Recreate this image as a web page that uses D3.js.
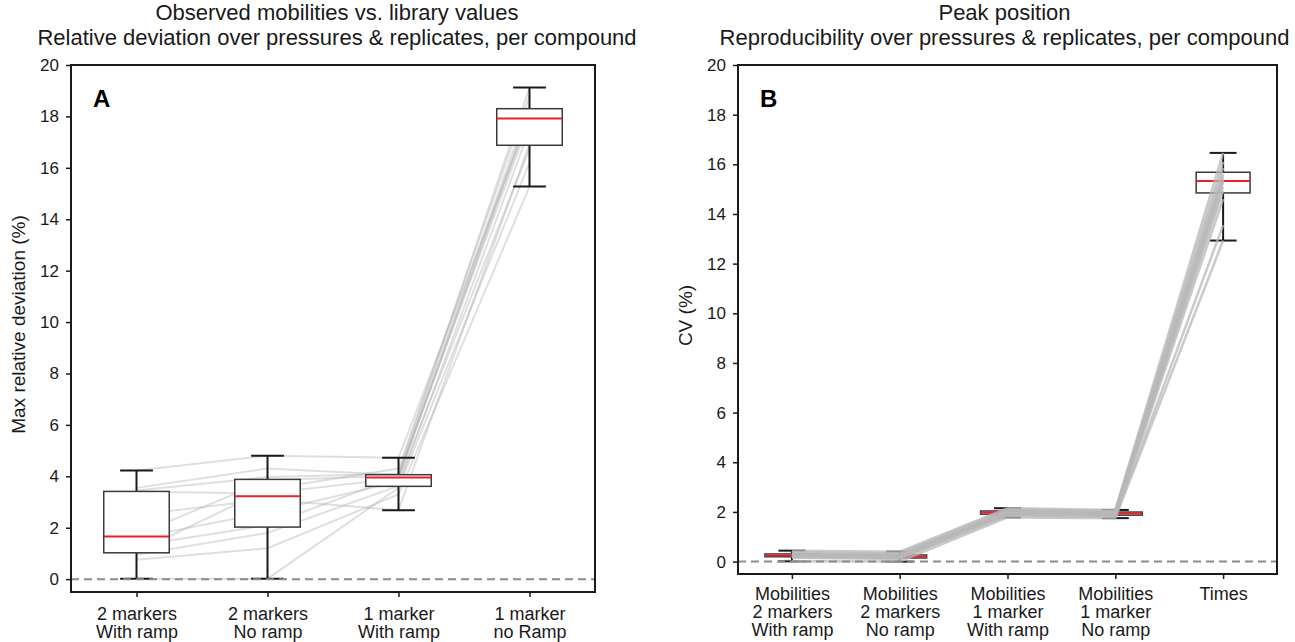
<!DOCTYPE html>
<html>
<head>
<meta charset="utf-8">
<script src="https://cdn.jsdelivr.net/npm/d3@7"></script>
<style>
  body { margin: 0; background: #fff; }
  svg { font-family: "Liberation Sans", Arial, sans-serif; }
</style>
</head>
<body>
<svg id="chart" width="1295" height="642"></svg>
<script>
// panel A: max relative deviation (%) per compound, one array per method
const catsA = [["2 markers", "With ramp"], ["2 markers", "No ramp"], ["1 marker", "With ramp"], ["1 marker", "no Ramp"]];
const twoMarkRamp   = [4.23, 3.55, 3.45, 3.40, 2.50, 1.72, 1.60, 1.30, 1.05, 0.95, 0.75, 0.02];
const twoMarkNoRamp = [4.80, 4.30, 3.97, 3.34, 3.10, 3.85, 2.60, 2.10, 3.50, 1.80, 1.20, 0.02];
const oneMarkRamp   = [4.72, 4.05, 4.10, 3.92, 2.68, 4.02, 3.80, 3.98, 4.30, 3.63, 3.30, 3.55];
const oneMarkNoRamp = [17.99, 18.45, 19.12, 18.25, 16.92, 17.85, 16.75, 18.10, 18.80, 17.50, 15.27, 16.20];

// panel B: CV (%) per compound
const catsB = [["Mobilities", "2 markers", "With ramp"], ["Mobilities", "2 markers", "No ramp"],
  ["Mobilities", "1 marker", "With ramp"], ["Mobilities", "1 marker", "No ramp"], ["Times"]];
const cvMob2Ramp   = [0.44, 0.38, 0.33, 0.30, 0.28, 0.26, 0.24, 0.22, 0.20, 0.18, 0.15, 0.01];
const cvMob2NoRamp = [0.40, 0.33, 0.29, 0.26, 0.23, 0.21, 0.19, 0.17, 0.15, 0.13, 0.10, 0.00];
const cvMob1Ramp   = [2.15, 2.10, 2.06, 2.03, 2.01, 1.99, 1.97, 1.95, 1.92, 1.88, 1.85, 1.78];
const cvMob1NoRamp = [2.08, 2.04, 2.01, 1.99, 1.97, 1.95, 1.92, 1.90, 1.88, 1.84, 1.80, 1.75];
const cvTimes      = [16.46, 16.10, 15.86, 15.62, 15.50, 15.38, 15.28, 15.10, 14.93, 14.60, 13.55, 12.93];

const yTicks = d3.range(0, 21, 2);

const svg = d3.select("#chart");

function panel(opt) {
  const g = svg.append("g");
  const n = opt.cats.length;
  const x = d3.scaleLinear().domain([0.5, n + 0.5]).range([opt.left, opt.right]);
  const y = d3.scaleLinear().domain([-0.5, 20]).range([opt.bottom, opt.top]);
  const unit = x(2) - x(1);

  // compound lines
  const nComp = opt.series[0].length;
  const compounds = d3.range(nComp).map((i) => opt.series.map((s, j) => [j + 1, s[i]]));
  const line = d3.line().x((d) => x(d[0])).y((d) => y(d[1]));
  function drawLines() {
    g.append("g").selectAll("path").data(compounds).enter().append("path")
      .attr("d", line).attr("fill", "none")
      .attr("stroke", opt.lineColor).attr("stroke-opacity", opt.lineOpacity)
      .attr("stroke-width", opt.lineWidth);
  }
  if (!opt.linesOnTop) drawLines();

  // boxes
  const stats = opt.series.map((s, j) => {
    const v = s.slice().sort(d3.ascending);
    return { pos: j + 1, min: v[0], max: v[v.length - 1],
      q1: d3.quantile(v, 0.25), med: d3.quantile(v, 0.5), q3: d3.quantile(v, 0.75) };
  });
  const bx = g.append("g").selectAll("g").data(stats).enter().append("g");
  bx.append("line").attr("x1", (d) => x(d.pos)).attr("x2", (d) => x(d.pos))
    .attr("y1", (d) => y(d.q3)).attr("y2", (d) => y(d.max)).attr("stroke", "#1a1a1a").attr("stroke-width", 2);
  bx.append("line").attr("x1", (d) => x(d.pos)).attr("x2", (d) => x(d.pos))
    .attr("y1", (d) => y(d.q1)).attr("y2", (d) => y(d.min)).attr("stroke", "#1a1a1a").attr("stroke-width", 2);
  ["max", "min"].forEach((k) => {
    bx.append("line").attr("x1", (d) => x(d.pos - 0.125)).attr("x2", (d) => x(d.pos + 0.125))
      .attr("y1", (d) => y(d[k])).attr("y2", (d) => y(d[k])).attr("stroke", "#1a1a1a").attr("stroke-width", 2);
  });
  bx.append("rect").attr("x", (d) => x(d.pos - 0.25)).attr("width", unit * 0.5)
    .attr("y", (d) => y(d.q3)).attr("height", (d) => y(d.q1) - y(d.q3))
    .attr("fill", "#fff").attr("stroke", "#3a3a3a").attr("stroke-width", 1.5);
  bx.append("line").attr("x1", (d) => x(d.pos - 0.25)).attr("x2", (d) => x(d.pos + 0.25))
    .attr("y1", (d) => y(d.med)).attr("y2", (d) => y(d.med)).attr("stroke", "#e8212a").attr("stroke-width", 2);

  if (opt.linesOnTop) drawLines();

  // zero reference
  g.append("line").attr("x1", opt.left).attr("x2", opt.right).attr("y1", y(0)).attr("y2", y(0))
    .attr("stroke", "#8c8c8c").attr("stroke-width", 2).attr("stroke-dasharray", "8,5");

  // axes
  const ya = g.append("g").attr("transform", `translate(${opt.left},0)`)
    .call(d3.axisLeft(y).tickValues(yTicks).tickSize(5).tickPadding(7));
  const xa = g.append("g").attr("transform", `translate(0,${opt.bottom})`)
    .call(d3.axisBottom(x).tickValues(d3.range(1, n + 1)).tickSize(5).tickFormat(""));
  [ya, xa].forEach((a) => {
    a.select(".domain").remove();
    a.selectAll(".tick line").attr("stroke", "#1a1a1a").attr("stroke-width", 1.5);
    a.selectAll(".tick text").attr("font-size", 17).attr("fill", "#1a1a1a");
  });
  xa.selectAll(".tick").each(function (d) {
    const t = d3.select(this).append("text").attr("fill", "#1a1a1a").attr("font-size", 18)
      .attr("text-anchor", "middle").attr("y", opt.labelY);
    opt.cats[d - 1].forEach((s, i) => t.append("tspan").attr("x", 0).attr("dy", i === 0 ? 0 : 18).text(s));
  });

  g.append("rect").attr("x", opt.left).attr("y", opt.top)
    .attr("width", opt.right - opt.left).attr("height", opt.bottom - opt.top)
    .attr("fill", "none").attr("stroke", "#1a1a1a").attr("stroke-width", 2);

  // titles and labels
  const cx = (opt.left + opt.right) / 2 + opt.titleShift;
  opt.title.forEach((s, i) => g.append("text").attr("x", cx).attr("y", 20 + i * 25)
    .attr("text-anchor", "middle").attr("font-size", 22).attr("fill", "#1a1a1a").text(s));
  g.append("text").attr("x", opt.left + 22).attr("y", opt.top + 42)
    .attr("font-size", 24).attr("font-weight", "bold").attr("fill", "#000").text(opt.letter);
  g.append("text").attr("transform", `translate(${opt.ylabelX},${(opt.top + opt.bottom) / 2 - 4}) rotate(-90)`)
    .attr("text-anchor", "middle").attr("font-size", 19).attr("fill", "#1a1a1a").text(opt.ylabel);
}

panel({
  cats: catsA, series: [twoMarkRamp, twoMarkNoRamp, oneMarkRamp, oneMarkNoRamp],
  left: 71, right: 595, top: 65, bottom: 592, labelY: 28,
  lineColor: "#b0b0b0", lineOpacity: 0.4, lineWidth: 2, linesOnTop: false, titleShift: 4,
  title: ["Observed mobilities vs. library values", "Relative deviation over pressures & replicates, per compound"],
  letter: "A", ylabel: "Max relative deviation (%)", ylabelX: 25
});

panel({
  cats: catsB, series: [cvMob2Ramp, cvMob2NoRamp, cvMob1Ramp, cvMob1NoRamp, cvTimes],
  left: 738, right: 1277, top: 65, bottom: 574, labelY: 26,
  lineColor: "#b8b8b8", lineOpacity: 0.75, lineWidth: 2.5, linesOnTop: true, titleShift: -3,
  title: ["Peak position", "Reproducibility over pressures & replicates, per compound"],
  letter: "B", ylabel: "CV (%)", ylabelX: 692
});
</script>
</body>
</html>
